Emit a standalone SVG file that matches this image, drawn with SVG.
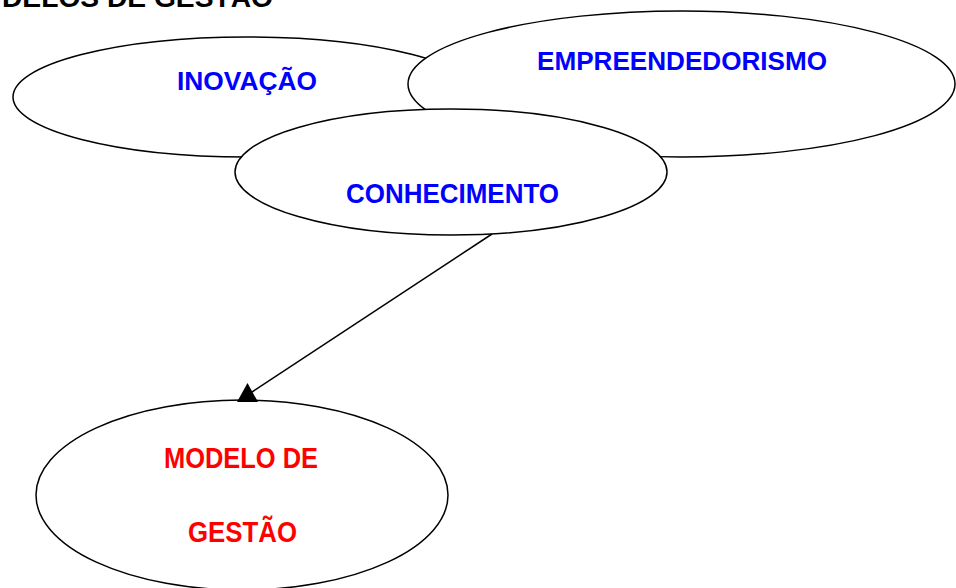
<svg xmlns="http://www.w3.org/2000/svg" width="956" height="588" viewBox="0 0 956 588">
<style>
.node ellipse{fill:#fff;stroke:#000;stroke-width:1.5}
.lbl{font-family:"Liberation Sans",Arial,sans-serif;font-weight:bold;text-anchor:middle}
.blue{fill:#0000ff}
.red{fill:#ff0000}
.edge{stroke:#000;stroke-width:1.5;fill:none}
</style>
<rect width="956" height="588" fill="#fff"/>
<text x="2" y="7" font-family="'Liberation Sans',Arial,sans-serif" font-weight="bold" font-size="28" fill="#000" textLength="271" lengthAdjust="spacingAndGlyphs">DELOS DE GESTÃO</text>
<g id="inovacao" class="node">
<ellipse cx="247" cy="97" rx="234" ry="60"/>
<text class="lbl blue" x="247" y="90" font-size="26" textLength="140" lengthAdjust="spacingAndGlyphs">INOVAÇÃO</text>
</g>
<g id="empreendedorismo" class="node">
<ellipse cx="681.5" cy="84" rx="273.5" ry="73"/>
<text class="lbl blue" x="682" y="70" font-size="26" textLength="290" lengthAdjust="spacingAndGlyphs">EMPREENDEDORISMO</text>
</g>
<g id="conhecimento" class="node">
<ellipse cx="451" cy="172" rx="216" ry="63"/>
<text class="lbl blue" x="452.5" y="203" font-size="28" textLength="213" lengthAdjust="spacingAndGlyphs">CONHECIMENTO</text>
</g>
<g id="modelo" class="node">
<ellipse cx="242" cy="495" rx="206" ry="95"/>
<text class="lbl red" x="241" y="468" font-size="29" textLength="154" lengthAdjust="spacingAndGlyphs">MODELO DE</text>
<text class="lbl red" x="242.5" y="542" font-size="29" textLength="109" lengthAdjust="spacingAndGlyphs">GESTÃO</text>
</g>
<g id="connectors">
<line class="edge" x1="492" y1="234" x2="252" y2="392"/>
<polygon points="247.5,383 237,402 258,402" fill="#000"/>
</g>
</svg>
